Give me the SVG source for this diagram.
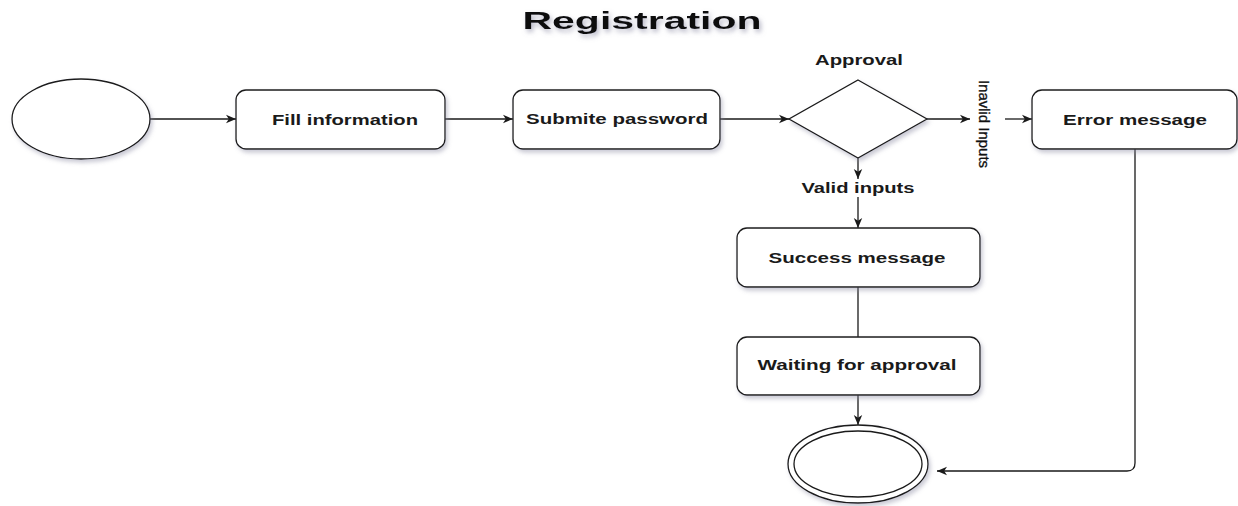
<svg xmlns="http://www.w3.org/2000/svg" width="1238" height="506" viewBox="0 0 1238 506">
  <style>
    .shape { fill: #ffffff; stroke: #1a1a1a; stroke-width: 1.3; filter: url(#shadow); }
    .edge { fill: none; stroke: #1a1a1a; stroke-width: 1.3; }
    .label { font-family: "Liberation Sans", Arial, sans-serif; font-weight: bold; font-size: 14px; fill: #1a1a1a; text-anchor: middle; }
    .side { font-family: "Liberation Sans", Arial, sans-serif; font-size: 14px; fill: #111; stroke: #111; stroke-width: 0.3; }
    .title { font-family: "Liberation Sans", Arial, sans-serif; font-weight: bold; font-size: 23px; fill: #111; text-anchor: middle; filter: url(#titleShadow); }
  </style>
  <defs>
    <filter id="shadow" x="-10%" y="-10%" width="130%" height="140%">
      <feDropShadow dx="2" dy="3" stdDeviation="2" flood-color="#8a8aa0" flood-opacity="0.45"/>
    </filter>
    <filter id="titleShadow" x="-10%" y="-30%" width="120%" height="180%">
      <feDropShadow dx="2" dy="3" stdDeviation="2.5" flood-color="#7d7d9a" flood-opacity="0.55"/>
    </filter>
    <marker id="arrow" viewBox="0 0 10 10" refX="10" refY="5" markerWidth="10" markerHeight="10" markerUnits="userSpaceOnUse" orient="auto">
      <path d="M0,0.8 L10,5 L0,9.2 L2.8,5 Z" fill="#1a1a1a"/>
    </marker>
  </defs>

  <rect width="1238" height="506" fill="#ffffff"/>

  <text class="title" x="642" y="29" textLength="239" lengthAdjust="spacingAndGlyphs">Registration</text>

  <g id="connectors">
    <line class="edge" x1="150" y1="119" x2="236" y2="119" marker-end="url(#arrow)"/>
    <line class="edge" x1="445" y1="119" x2="513" y2="119" marker-end="url(#arrow)"/>
    <line class="edge" x1="720" y1="119" x2="789" y2="119" marker-end="url(#arrow)"/>
    <line class="edge" x1="927" y1="119" x2="970" y2="119" marker-end="url(#arrow)"/>
    <line class="edge" x1="1005" y1="119" x2="1032" y2="119" marker-end="url(#arrow)"/>
    <line class="edge" x1="858" y1="158" x2="858" y2="179" marker-end="url(#arrow)"/>
    <line class="edge" x1="858" y1="197" x2="858" y2="228" marker-end="url(#arrow)"/>
    <line class="edge" x1="858" y1="287" x2="858" y2="337"/>
    <line class="edge" x1="858" y1="395" x2="858" y2="425" marker-end="url(#arrow)"/>
    <path class="edge" d="M1135,149 V463 Q1135,471 1127,471 H937" marker-end="url(#arrow)"/>
  </g>

  <g id="start">
    <ellipse class="shape" cx="81" cy="119" rx="69" ry="40"/>
  </g>

  <g id="fill-information">
    <rect class="shape" x="236" y="90" width="209" height="59" rx="10"/>
    <text class="label" x="345" y="125" textLength="146" lengthAdjust="spacingAndGlyphs">Fill information</text>
  </g>

  <g id="submite-password">
    <rect class="shape" x="513" y="90" width="207" height="59" rx="10"/>
    <text class="label" x="617" y="124" textLength="182" lengthAdjust="spacingAndGlyphs">Submite password</text>
  </g>

  <g id="approval">
    <polygon class="shape" points="858,80 927,119 858,158 789,119"/>
    <text class="label" x="859" y="65" textLength="88" lengthAdjust="spacingAndGlyphs">Approval</text>
  </g>

  <g id="invalid-label">
    <text class="side" transform="translate(979,80) rotate(90)" x="0" y="0" textLength="88" lengthAdjust="spacingAndGlyphs">Inavlid Inputs</text>
  </g>

  <g id="error-message">
    <rect class="shape" x="1032" y="90" width="205" height="59" rx="10"/>
    <text class="label" x="1135" y="125" textLength="144" lengthAdjust="spacingAndGlyphs">Error message</text>
  </g>

  <g id="valid-label">
    <text class="label" x="858" y="193" textLength="113" lengthAdjust="spacingAndGlyphs">Valid inputs</text>
  </g>

  <g id="success-message">
    <rect class="shape" x="737" y="228" width="243" height="59" rx="10"/>
    <text class="label" x="857" y="263" textLength="177" lengthAdjust="spacingAndGlyphs">Success message</text>
  </g>

  <g id="waiting-for-approval">
    <rect class="shape" x="737" y="337" width="243" height="58" rx="10"/>
    <text class="label" x="857" y="370" textLength="199" lengthAdjust="spacingAndGlyphs">Waiting for approval</text>
  </g>

  <g id="end">
    <ellipse class="shape" cx="858" cy="464" rx="70" ry="39"/>
    <ellipse cx="858" cy="464" rx="64" ry="33" fill="none" stroke="#1a1a1a" stroke-width="1.3"/>
  </g>
</svg>
